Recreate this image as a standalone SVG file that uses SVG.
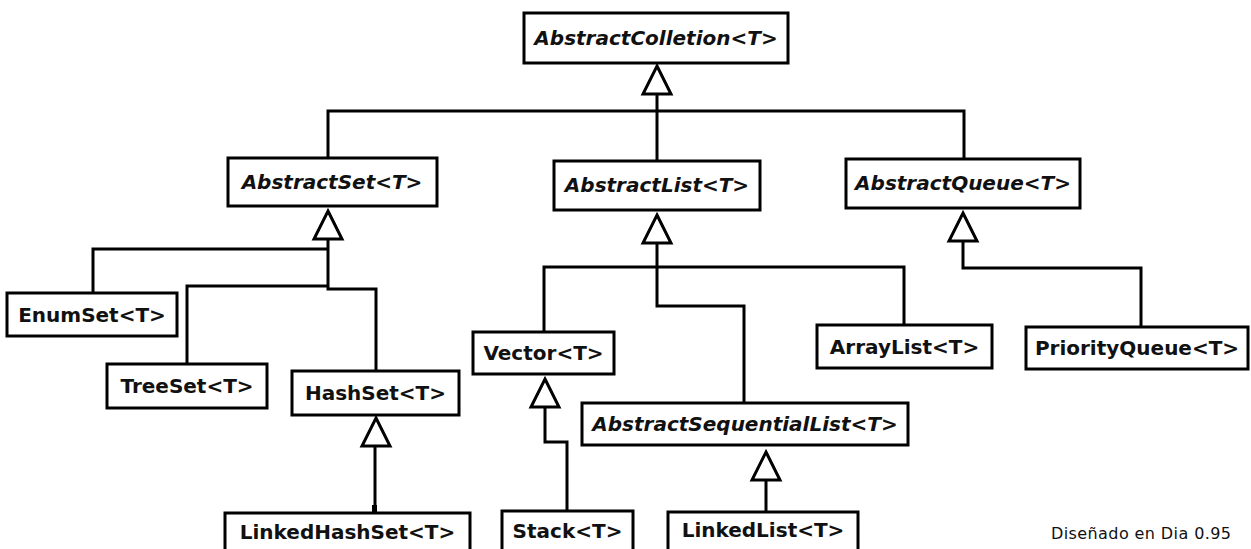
<svg xmlns="http://www.w3.org/2000/svg" xmlns:xlink="http://www.w3.org/1999/xlink" width="1251" height="549" viewBox="0 0 1251 549">
  <style>
    .box { fill: #ffffff; stroke: #000000; stroke-width: 3; }
    .lbl { font-family: "DejaVu Sans", "Liberation Sans", sans-serif; font-size: 20px; font-weight: bold; fill: #111111; text-anchor: middle; }
    .abs { font-style: italic; }
    .wire { fill: none; stroke: #000000; stroke-width: 3; stroke-linejoin: miter; }
    .gen { fill: #ffffff; stroke: #000000; stroke-width: 3; stroke-linejoin: miter; }
    .note { font-family: "DejaVu Sans", "Liberation Sans", sans-serif; font-size: 16px; fill: #111111; }
  </style>
  <defs>
    <!-- hollow generalization arrowhead, tip at origin -->
    <path id="tri" d="M0,0 L14,28 L-14,28 Z"/>
  </defs>
  <rect width="1251" height="549" fill="#ffffff"/>

  <g id="connectors">
    <!-- AbstractColletion children -->
    <path class="wire" d="M657,95 V161"/>
    <path class="wire" d="M328,158 V111 H964 V159"/>
    <use href="#tri" class="gen" x="657" y="66"/>

    <!-- AbstractSet children -->
    <path class="wire" d="M328,239 V289 H376 V371"/>
    <path class="wire" d="M328,249 H93 V293"/>
    <path class="wire" d="M328,286 H187 V364"/>
    <use href="#tri" class="gen" x="328" y="211"/>

    <!-- HashSet child -->
    <path class="wire" d="M375,447 V513"/>
    <rect x="372" y="505" width="5" height="8" fill="#000000"/>
    <use href="#tri" class="gen" x="376" y="418"/>

    <!-- AbstractList children -->
    <path class="wire" d="M657,243 V306 H744 V403"/>
    <path class="wire" d="M544,332 V267 H904 V325"/>
    <use href="#tri" class="gen" x="657" y="215"/>

    <!-- Vector child -->
    <path class="wire" d="M545,407 V442 H567 V511"/>
    <use href="#tri" class="gen" x="545" y="379"/>

    <!-- AbstractQueue child -->
    <path class="wire" d="M963,241 V268 H1141 V327"/>
    <use href="#tri" class="gen" x="963" y="213"/>

    <!-- AbstractSequentialList child -->
    <path class="wire" d="M766,480 V512"/>
    <use href="#tri" class="gen" x="766" y="452"/>
  </g>

  <g id="AbstractColletion">
    <rect class="box" x="524" y="13" width="264" height="50"/>
    <text class="lbl abs" x="656" y="45">AbstractColletion&lt;T&gt;</text>
  </g>
  <g id="AbstractSet">
    <rect class="box" x="228" y="158" width="209" height="48"/>
    <text class="lbl abs" x="332" y="189">AbstractSet&lt;T&gt;</text>
  </g>
  <g id="AbstractList">
    <rect class="box" x="554" y="161" width="206" height="49"/>
    <text class="lbl abs" x="657" y="192">AbstractList&lt;T&gt;</text>
  </g>
  <g id="AbstractQueue">
    <rect class="box" x="846" y="159" width="234" height="49"/>
    <text class="lbl abs" x="963" y="190">AbstractQueue&lt;T&gt;</text>
  </g>
  <g id="EnumSet">
    <rect class="box" x="7" y="293" width="170" height="43"/>
    <text class="lbl" x="92" y="322">EnumSet&lt;T&gt;</text>
  </g>
  <g id="TreeSet">
    <rect class="box" x="107" y="364" width="160" height="44"/>
    <text class="lbl" x="187" y="393">TreeSet&lt;T&gt;</text>
  </g>
  <g id="HashSet">
    <rect class="box" x="292" y="371" width="167" height="44"/>
    <text class="lbl" x="375.5" y="400">HashSet&lt;T&gt;</text>
  </g>
  <g id="Vector">
    <rect class="box" x="473" y="332" width="141" height="42"/>
    <text class="lbl" x="543.5" y="360">Vector&lt;T&gt;</text>
  </g>
  <g id="ArrayList">
    <rect class="box" x="817" y="325" width="175" height="43"/>
    <text class="lbl" x="904.5" y="354">ArrayList&lt;T&gt;</text>
  </g>
  <g id="PriorityQueue">
    <rect class="box" x="1026" y="327" width="222" height="42"/>
    <text class="lbl" x="1137" y="355">PriorityQueue&lt;T&gt;</text>
  </g>
  <g id="AbstractSequentialList">
    <rect class="box" x="582" y="403" width="326" height="42"/>
    <text class="lbl abs" x="745" y="431">AbstractSequentialList&lt;T&gt;</text>
  </g>
  <g id="LinkedHashSet">
    <rect class="box" x="225" y="513" width="245" height="44"/>
    <text class="lbl" x="347.5" y="539">LinkedHashSet&lt;T&gt;</text>
  </g>
  <g id="Stack">
    <rect class="box" x="502" y="511" width="131" height="46"/>
    <text class="lbl" x="567.5" y="538">Stack&lt;T&gt;</text>
  </g>
  <g id="LinkedList">
    <rect class="box" x="668" y="512" width="190" height="45"/>
    <text class="lbl" x="763" y="537">LinkedList&lt;T&gt;</text>
  </g>

  <text class="note" x="1051" y="539" textLength="180">Diseñado en Dia 0.95</text>
</svg>
